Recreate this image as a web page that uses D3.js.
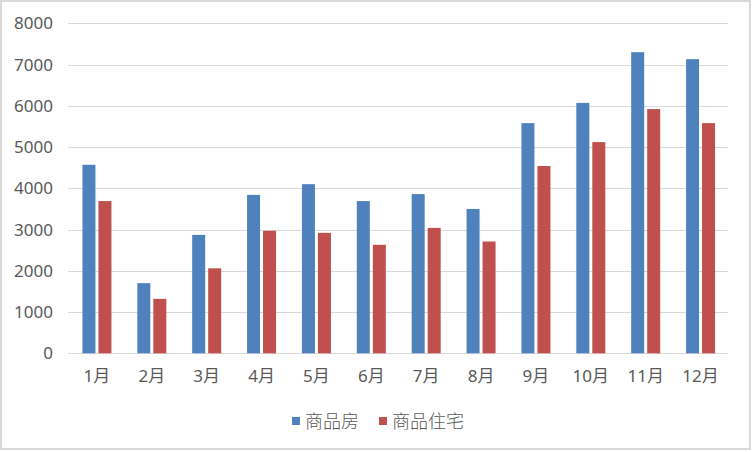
<!DOCTYPE html>
<html><head><meta charset="utf-8">
<script src="https://cdn.jsdelivr.net/npm/d3@7"></script>
<style>html,body{margin:0;padding:0;background:#fff;}</style>
</head><body>
<script>
const months = ["1月","2月","3月","4月","5月","6月","7月","8月","9月","10月","11月","12月"];
const seriesNames = ["商品房","商品住宅"];
const spfValues = [4570,1700,2870,3840,4100,3690,3860,3500,5580,6070,7300,7130];
const zzValues = [3690,1320,2060,2970,2920,2630,3040,2710,4540,5120,5920,5580];
const yTicks = [0,1000,2000,3000,4000,5000,6000,7000,8000];
const colors = ["#4F81BD","#C0504D"];

const W = 752, H = 452;
const svg = d3.select("body").append("svg").attr("width", W).attr("height", H);
svg.append("rect").attr("x",1).attr("y",1).attr("width",W-3).attr("height",H-4)
  .attr("fill","#fff").attr("stroke","#d9d9d9").attr("stroke-width",2);

const font = "'Noto Sans', 'Noto Sans CJK SC', sans-serif";
const y = d3.scaleLinear().domain([0,8000]).range([353.3,23.3]);
const x0 = d3.scaleBand().domain(months).range([69.5,728]).padding(0);
const x1 = d3.scaleBand().domain(seriesNames).range([0,29]).paddingInner(0.1875).paddingOuter(0);
const gridX0 = 68, gridX1 = 728;

// gridlines
const g = svg.append("g");
g.selectAll("line.grid").data(yTicks).join("line")
  .attr("x1", gridX0).attr("x2", gridX1)
  .attr("y1", d => Math.round(y(d))+0.5).attr("y2", d => Math.round(y(d))+0.5)
  .attr("stroke","#d9d9d9").attr("stroke-width",1);

// y axis labels
const yAxis = d3.axisLeft(y).tickValues(yTicks).tickFormat(d3.format("d")).tickSize(0).tickPadding(0);
const ya = svg.append("g").attr("transform","translate(53,0)").call(yAxis);
ya.select(".domain").remove();
ya.selectAll("text").attr("font-family",font).attr("font-size",17).attr("fill","#595959");

// x axis labels
const xAxis = d3.axisBottom(x0).tickSize(0).tickPadding(0);
const xa = svg.append("g").attr("transform","translate(0,370)").call(xAxis);
xa.select(".domain").remove();
xa.selectAll("text").attr("font-family",font).attr("font-size",17).attr("fill","#595959");

// bars
const data = months.map((m,i) => ({m, vals:[spfValues[i], zzValues[i]]}));
const groups = svg.append("g").selectAll("g").data(data).join("g")
  .attr("transform", d => `translate(${x0(d.m) + (x0.bandwidth()-29)/2},0)`);
groups.selectAll("rect").data(d => d.vals.map((v,j)=>({name:seriesNames[j], v, j}))).join("rect")
  .attr("x", d => x1(d.name)).attr("width", x1.bandwidth())
  .attr("y", d => y(d.v)).attr("height", d => y(0)-y(d.v))
  .attr("fill", d => colors[d.j]);

// legend
const leg = svg.append("g");
const legItems = [{name:seriesNames[0], x:292},{name:seriesNames[1], x:379}];
legItems.forEach((it,i) => {
  leg.append("rect").attr("x",it.x).attr("y",417).attr("width",8).attr("height",8).attr("fill",colors[i]);
  leg.append("text").attr("x",it.x+13).attr("y",428).text(it.name)
    .attr("font-family","'Noto Sans CJK SC', sans-serif").attr("font-size",18).attr("font-weight",300).attr("fill","#595959");
});
</script>
</body></html>
